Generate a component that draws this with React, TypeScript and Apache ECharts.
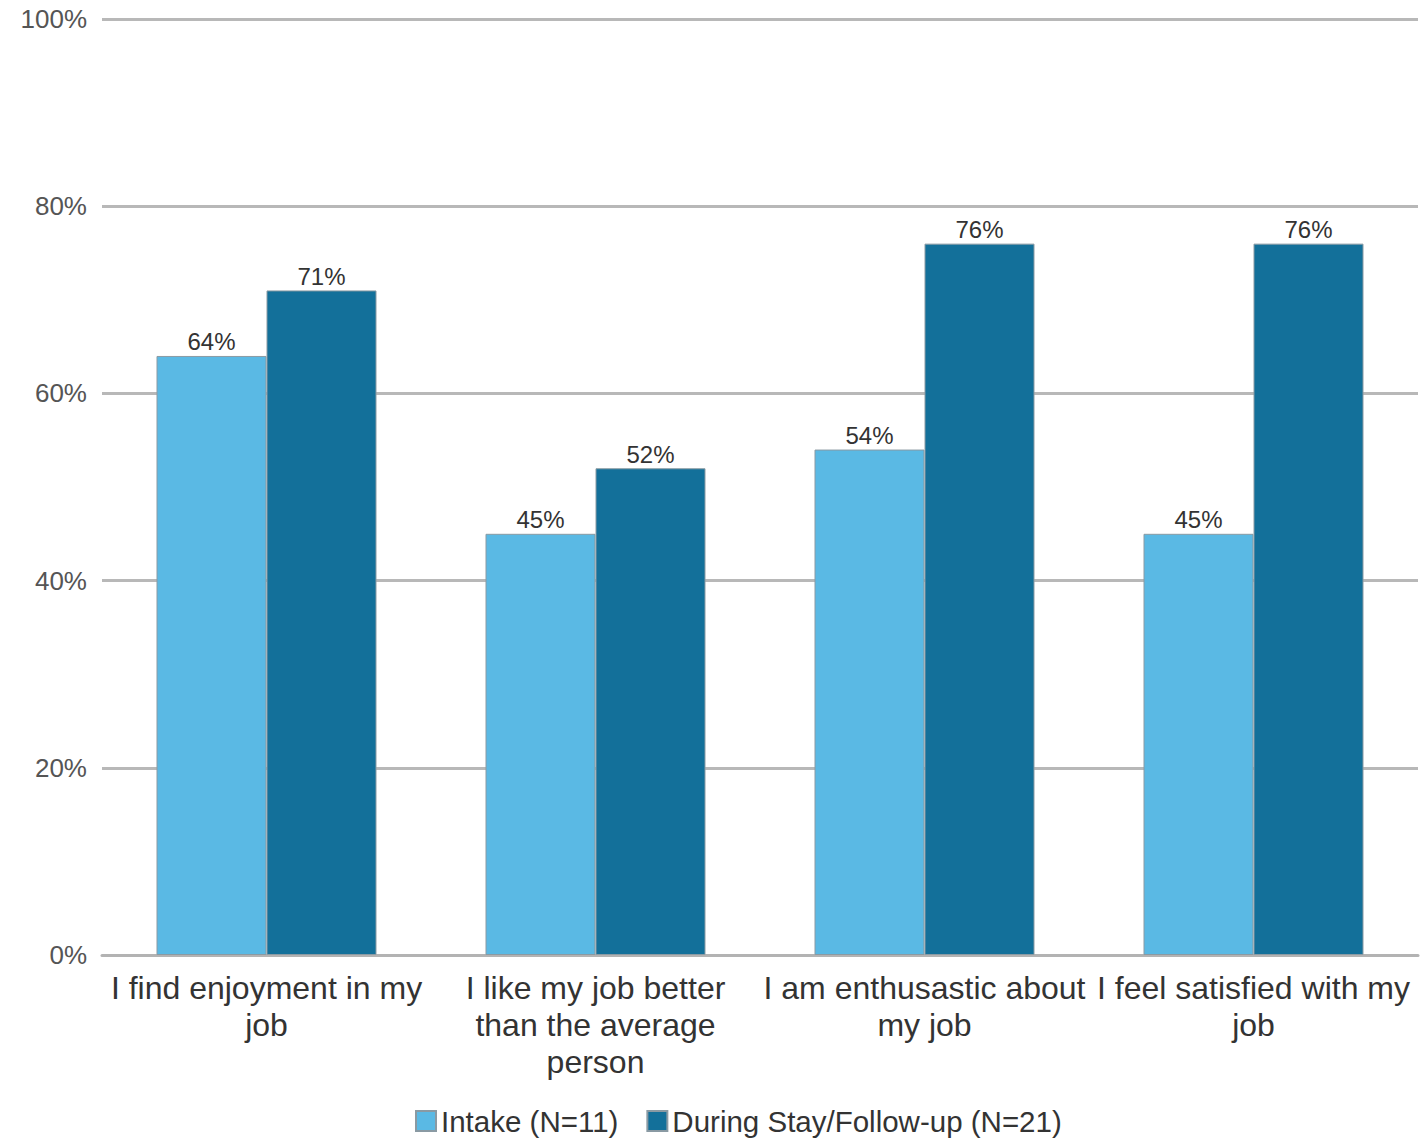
import React, { useEffect, useRef } from "react";
import * as echarts from "echarts";

const categories = [
  "I find enjoyment in my\njob",
  "I like my job better\nthan the average\nperson",
  "I am enthusastic about\nmy job",
  "I feel satisfied with my\njob",
];
const intake = [64, 45, 54, 45];
const followUp = [71, 52, 76, 76];
const seriesNames = ["Intake (N=11)", "During Stay/Follow-up (N=21)"];
const colors = ["#5ab9e4", "#13709a"];

const FONT = "'Liberation Sans', Arial, sans-serif";

export default function App() {
  const ref = useRef<HTMLDivElement>(null);

  useEffect(() => {
    document.body.style.margin = "0";
    const chart = echarts.init(ref.current!, undefined, { renderer: "svg" });
    const barLabel = {
      show: true,
      position: "top" as const,
      distance: 2,
      formatter: "{c}%",
      color: "#333",
      fontSize: 24,
      fontFamily: FONT,
    };
    chart.setOption({
      animation: false,
      textStyle: { fontFamily: FONT },
      grid: { left: 102, right: 3, top: 19, bottom: 183 },
      legend: {
        bottom: -3,
        left: 410,
        icon: "rect",
        itemWidth: 20,
        itemHeight: 20,
        itemGap: 28,
        textStyle: { fontSize: 29.5, color: "#333", fontFamily: FONT, padding: [0, 0, 0, 0] },
        data: seriesNames,
      },
      xAxis: {
        type: "category",
        data: categories,
        axisTick: { show: false },
        axisLine: { lineStyle: { color: "#b3b3b3", width: 3 } },
        axisLabel: {
          interval: 0,
          margin: 14,
          fontSize: 32,
          lineHeight: 37,
          color: "#333",
          fontFamily: FONT,
        },
      },
      yAxis: {
        type: "value",
        min: 0,
        max: 100,
        interval: 20,
        axisLabel: {
          formatter: "{value}%",
          fontSize: 26,
          color: "#555",
          margin: 15,
          fontFamily: FONT,
        },
        splitLine: { lineStyle: { color: "#b8b8b8", width: 3 } },
      },
      series: [
        {
          name: seriesNames[0],
          type: "bar",
          data: intake,
          barWidth: 110,
          barGap: "0%",
          itemStyle: { color: colors[0], borderColor: "#8a9aa3", borderWidth: 1 },
          label: barLabel,
        },
        {
          name: seriesNames[1],
          type: "bar",
          data: followUp,
          barWidth: 110,
          barGap: "0%",
          itemStyle: { color: colors[1], borderColor: "#8a9aa3", borderWidth: 1 },
          label: barLabel,
        },
      ],
    });
    return () => chart.dispose();
  }, []);

  return <div ref={ref} style={{ width: 1421, height: 1138 }} />;
}
